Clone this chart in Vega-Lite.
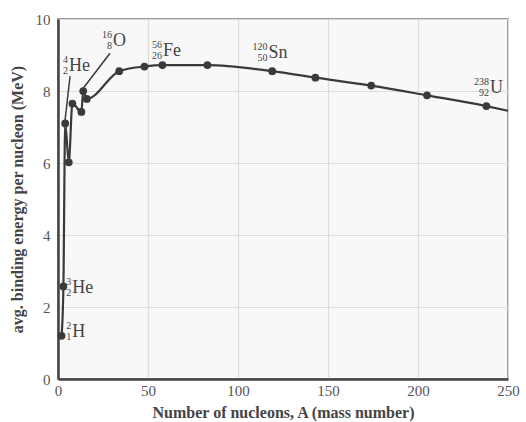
{
  "$schema": "https://vega.github.io/schema/vega-lite/v6.json",
  "width": 450,
  "height": 360,
  "autosize": {"type": "none"},
  "padding": {"left": 58, "top": 19, "right": 18, "bottom": 43},
  "background": "white",
  "config": {
    "view": {"fill": "#f8f8f8", "stroke": "#7a7a7a", "strokeWidth": 1.5},
    "font": "Liberation Serif",
    "axis": {
      "labelFont": "Liberation Serif",
      "titleFont": "Liberation Serif",
      "labelFontSize": 15,
      "labelColor": "#555555",
      "titleFontSize": 16,
      "titleFontWeight": "bold",
      "titleColor": "#444444",
      "gridColor": "#dcdcdc",
      "gridWidth": 1.2,
      "domainColor": "#444444",
      "domainWidth": 2.5,
      "ticks": false
    }
  },
  "datasets": {
    "curve": [
      {"A": 2, "E": 1.2, "dot": true},
      {"A": 3, "E": 2.57, "dot": true},
      {"A": 4, "E": 7.1, "dot": true},
      {"A": 6, "E": 6.02, "dot": true},
      {"A": 8, "E": 7.65, "dot": true},
      {"A": 13, "E": 7.42, "dot": true},
      {"A": 14, "E": 8.0, "dot": true},
      {"A": 16, "E": 7.78, "dot": true},
      {"A": 34, "E": 8.55, "dot": true},
      {"A": 48, "E": 8.68, "dot": true},
      {"A": 58, "E": 8.72, "dot": true},
      {"A": 83, "E": 8.72, "dot": true},
      {"A": 119, "E": 8.55, "dot": true},
      {"A": 143, "E": 8.37, "dot": true},
      {"A": 174, "E": 8.15, "dot": true},
      {"A": 205, "E": 7.88, "dot": true},
      {"A": 238, "E": 7.58, "dot": true},
      {"A": 250, "E": 7.45, "dot": false}
    ],
    "labels": [
      {"sym": "He", "m": "4", "z": "2", "lx": 6.1, "ly": 8.69},
      {"sym": "O", "m": "16", "z": "8", "lx": 30.5, "ly": 9.39},
      {"sym": "Fe", "m": "56", "z": "26", "lx": 58.3, "ly": 9.1},
      {"sym": "Sn", "m": "120", "z": "50", "lx": 117, "ly": 9.05},
      {"sym": "U", "m": "238", "z": "92", "lx": 240, "ly": 8.07},
      {"sym": "He", "m": "3", "z": "2", "lx": 7.9, "ly": 2.54},
      {"sym": "H", "m": "2", "z": "1", "lx": 7.9, "ly": 1.31}
    ],
    "leaders": [
      {"x1": 6.7, "y1": 8.41, "x2": 3.9, "y2": 7.18},
      {"x1": 28.9, "y1": 9.05, "x2": 13.9, "y2": 8.07}
    ]
  },
  "layer": [
    {
      "data": {"name": "curve"},
      "mark": {"type": "line", "color": "#3a3a3a", "strokeWidth": 2.2, "interpolate": "monotone"},
      "encoding": {
        "x": {
          "field": "A", "type": "quantitative",
          "scale": {"domain": [0, 250], "nice": false},
          "axis": {"values": [0, 50, 100, 150, 200, 250], "title": "Number of nucleons, A (mass number)", "labelPadding": 4, "titlePadding": 6, "labelFlush": false}
        },
        "y": {
          "field": "E", "type": "quantitative",
          "scale": {"domain": [0, 10], "nice": false},
          "axis": {"values": [0, 1, 2, 3, 4, 5, 6, 7, 8, 9, 10], "labelExpr": "datum.value % 2 == 0 ? datum.label : ''", "title": "avg. binding energy per nucleon (MeV)", "labelPadding": 8, "titlePadding": 10, "labelFlush": false}
        },
        "order": {"field": "A"}
      }
    },
    {
      "data": {"name": "curve"},
      "transform": [{"filter": "datum.dot"}],
      "mark": {"type": "circle", "color": "#3a3a3a", "size": 60, "opacity": 1},
      "encoding": {
        "x": {"field": "A", "type": "quantitative"},
        "y": {"field": "E", "type": "quantitative"}
      }
    },
    {
      "data": {"name": "leaders"},
      "mark": {"type": "rule", "color": "#3a3a3a", "strokeWidth": 1.5},
      "encoding": {
        "x": {"field": "x1", "type": "quantitative"},
        "y": {"field": "y1", "type": "quantitative"},
        "x2": {"field": "x2"},
        "y2": {"field": "y2"}
      }
    },
    {
      "data": {"name": "labels"},
      "mark": {"type": "text", "align": "left", "baseline": "middle", "fontSize": 18, "color": "#444444", "font": "Liberation Serif"},
      "encoding": {
        "x": {"field": "lx", "type": "quantitative"},
        "y": {"field": "ly", "type": "quantitative"},
        "text": {"field": "sym"}
      }
    },
    {
      "data": {"name": "labels"},
      "mark": {"type": "text", "align": "right", "baseline": "middle", "fontSize": 10, "dx": -1, "dy": -6, "color": "#444444", "font": "Liberation Serif"},
      "encoding": {
        "x": {"field": "lx", "type": "quantitative"},
        "y": {"field": "ly", "type": "quantitative"},
        "text": {"field": "m"}
      }
    },
    {
      "data": {"name": "labels"},
      "mark": {"type": "text", "align": "right", "baseline": "middle", "fontSize": 10, "dx": -1, "dy": 5, "color": "#444444", "font": "Liberation Serif"},
      "encoding": {
        "x": {"field": "lx", "type": "quantitative"},
        "y": {"field": "ly", "type": "quantitative"},
        "text": {"field": "z"}
      }
    }
  ]
}
